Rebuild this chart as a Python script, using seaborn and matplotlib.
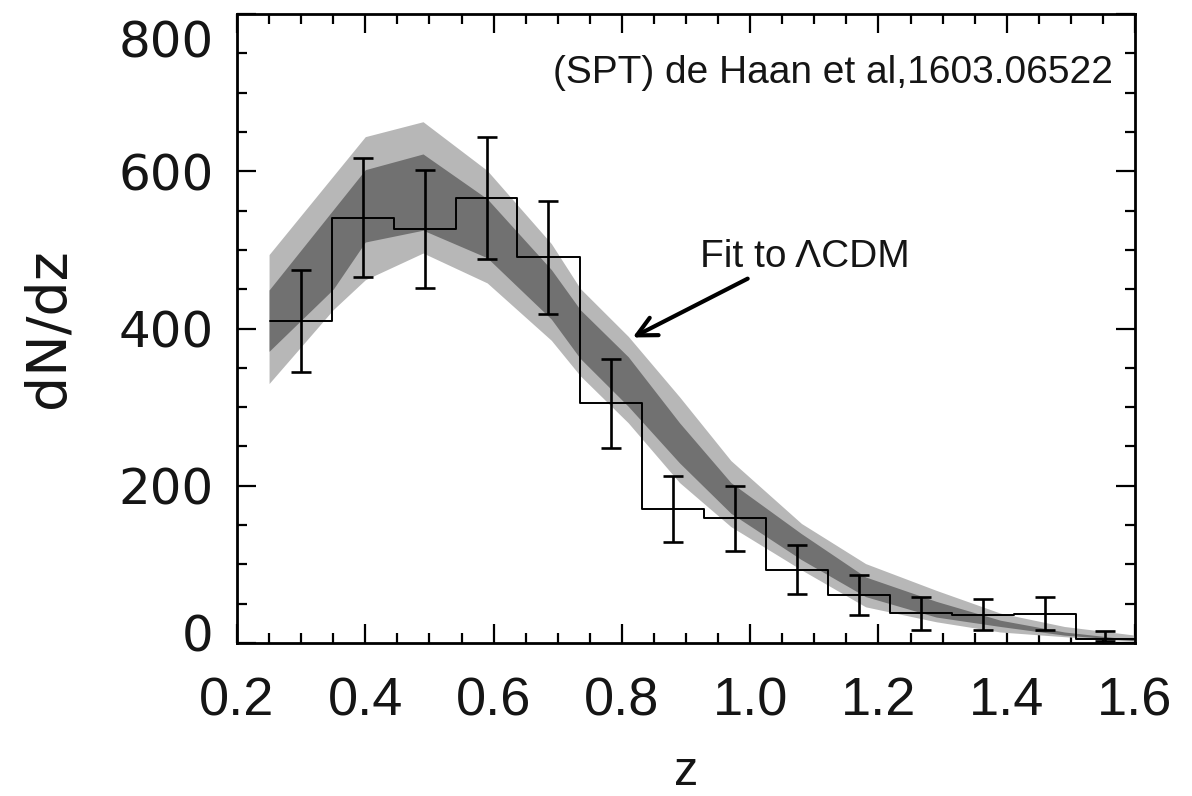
import numpy as np
import pandas as pd
import matplotlib
matplotlib.use("Agg")
import matplotlib.pyplot as plt
import matplotlib.transforms as mtransforms
from matplotlib.ticker import MultipleLocator
import seaborn as sns

# ---- data ----
bin_edges = [0.251, 0.348, 0.444, 0.541, 0.637, 0.734, 0.831, 0.928,
             1.025, 1.121, 1.218, 1.315, 1.411, 1.508, 1.600]
counts = [410, 541, 527, 566, 491, 305, 170, 159, 93, 61, 38, 36, 37, 5]
err_upper = [475, 617, 601, 643, 562, 361, 213, 200, 125, 87, 59, 56, 58, 15]
err_lower = [345, 466, 452, 489, 419, 248, 128, 117, 62, 36, 17, 16, 17, 3]

z_band = [0.25, 0.35, 0.40, 0.49, 0.59, 0.69, 0.735, 0.81, 0.89, 0.97,
          1.08, 1.18, 1.29, 1.39, 1.49, 1.60]
light_hi = [494, 594, 644, 663, 601, 508, 451, 390, 313, 232, 152, 101, 67, 38, 21, 10]
dark_hi = [449, 551, 602, 622, 565, 475, 424, 364, 280, 204, 139, 84, 53, 29, 14, 4]
dark_lo = [371, 450, 510, 525, 490, 412, 362, 301, 229, 165, 106, 59, 33, 21, 10, 3]
light_lo = [330, 424, 462, 496, 458, 385, 340, 280, 204, 148, 93, 46, 27, 14, 8, 2]

x_ticks = [0.2, 0.4, 0.6, 0.8, 1.0, 1.2, 1.4, 1.6]
x_ticklabels = ["0.2", "0.4", "0.6", "0.8", "1.0", "1.2", "1.4", "1.6"]
y_ticks = [0, 200, 400, 600, 800]
y_ticklabels = ["0", "200", "400", "600", "800"]

# ---- plot ----
sns.set_theme(style="ticks")
plt.rcParams["font.family"] = ["DejaVu Sans"]

fig = plt.figure(figsize=(11.92, 7.96), dpi=100)
ax = fig.add_axes([237 / 1192, 1 - 643 / 796, (1135 - 237) / 1192, (643 - 14) / 796])

ax.fill_between(z_band, light_lo, light_hi, color="#b7b7b7", lw=0, zorder=1)
ax.fill_between(z_band, dark_lo, dark_hi, color="#717171", lw=0, zorder=2)

step_df = pd.DataFrame({"z": bin_edges, "n": counts + [counts[-1]]})
sns.lineplot(data=step_df, x="z", y="n", drawstyle="steps-post",
             color="black", lw=1.4, ax=ax, zorder=3)

edges = np.array(bin_edges)
centers = 0.5 * (edges[:-1] + edges[1:])
cnt = np.array(counts)
ax.errorbar(centers, cnt, yerr=[cnt - np.array(err_lower), np.array(err_upper) - cnt],
            fmt="none", ecolor="black", elinewidth=1.9, capsize=7, capthick=1.9, zorder=4)

ax.set_xlim(0.2, 1.6)
ax.set_ylim(0, 800)
ax.set_xticks(x_ticks)
ax.set_xticklabels(x_ticklabels, fontfamily="Liberation Sans", fontsize=39)
ax.set_yticks(y_ticks)
ax.set_yticklabels(y_ticklabels, fontfamily="DejaVu Sans", fontsize=36)
ax.xaxis.set_minor_locator(MultipleLocator(0.05))
ax.yaxis.set_minor_locator(MultipleLocator(50))
ax.tick_params(which="both", direction="in", top=True, right=True, color="black",
               width=1.6)
ax.tick_params(which="major", length=14)
ax.tick_params(which="minor", length=7)
ax.tick_params(axis="x", which="major", pad=24, labelcolor="#151515")
ax.tick_params(axis="y", which="major", pad=17, labelcolor="#151515")

for s in ax.spines.values():
    s.set_linewidth(2.0)
    s.set_color("black")

# end labels pushed inward like the reference
for lab in ax.get_yticklabels():
    if lab.get_text() == "800":
        lab.set_transform(lab.get_transform() + mtransforms.ScaledTranslation(0, -24 / 100, fig.dpi_scale_trans))
    if lab.get_text() == "0":
        lab.set_transform(lab.get_transform() + mtransforms.ScaledTranslation(0, 11 / 100, fig.dpi_scale_trans))

ax.set_xlabel("z", fontfamily="Liberation Sans", fontsize=35, color="#151515")
ax.set_ylabel("dN/dz", fontfamily="DejaVu Sans", fontsize=40, color="#151515")
ax.xaxis.set_label_coords(0.5, -0.17)
ax.yaxis.set_label_coords(-0.18, 0.5)

ax.text(1.566, 725, "(SPT) de Haan et al,1603.06522", ha="right", va="center",
        fontfamily="Liberation Sans", fontsize=28, color="#151515", zorder=5)
ax.text(1.085, 491, "Fit to \u039bCDM", ha="center", va="center",
        fontfamily="Liberation Sans", fontsize=28, color="#151515", zorder=5)
ax.annotate("", xy=(0.813, 387), xytext=(1.0, 465),
            arrowprops=dict(arrowstyle="->", lw=3, color="black",
                            mutation_scale=35), zorder=5)

fig.savefig("out.png", dpi=100, facecolor="white")
